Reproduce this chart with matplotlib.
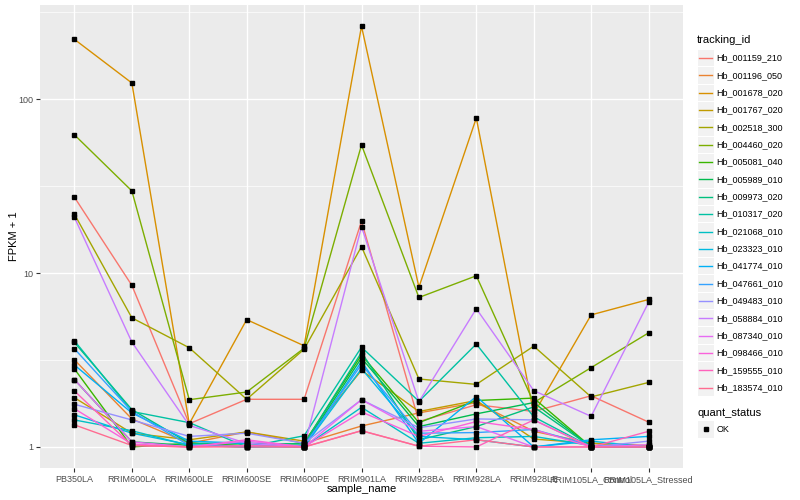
import numpy as np
import matplotlib.pyplot as plt
from matplotlib.patches import Rectangle
from matplotlib.lines import Line2D
from matplotlib.ticker import FixedLocator, NullFormatter

plt.rcParams.update({
    "font.family": ["Liberation Sans", "DejaVu Sans"],
    "font.size": 8})

samples = ["PB350LA", "RRIM600LA", "RRIM600LE", "RRIM600SE", "RRIM600PE",
           "RRIM901LA", "RRIM928BA", "RRIM928LA", "RRIM928LE",
           "RRIM105LA_Control", "RRIM105LA_Stressed"]

tracking_ids = ["Hb_001159_210", "Hb_001196_050", "Hb_001678_020", "Hb_001767_020",
                "Hb_002518_300", "Hb_004460_020", "Hb_005081_040", "Hb_005989_010",
                "Hb_009973_020", "Hb_010317_020", "Hb_021068_010", "Hb_023323_010",
                "Hb_041774_010", "Hb_047661_010", "Hb_049483_010", "Hb_058884_010",
                "Hb_087340_010", "Hb_098466_010", "Hb_159555_010", "Hb_183574_010"]

# ggplot hue palette, 20 levels
colours = ["#F8766D", "#EA8331", "#D89000", "#C09B00", "#A3A500", "#7CAE00",
           "#39B600", "#00BB4E", "#00BF7D", "#00C1A3", "#00BFC4", "#00BAE0",
           "#00B0F6", "#35A2FF", "#9590FF", "#C77CFF", "#E76BF3", "#FA62DB",
           "#FF62BC", "#FF6C91"]

# FPKM + 1 per sample
hb_001159_210 = [27.3, 8.5, 1.36, 1.88, 1.88, 19.9, 1.40, 1.75, 1.60, 1.97, 1.39]
hb_001196_050 = [3.17, 1.45, 1.05, 1.22, 1.05, 1.32, 1.57, 1.80, 1.23, 1.05, 1.02]
hb_001678_020 = [221, 124, 1.36, 5.4, 3.82, 263, 8.3, 78, 1.55, 5.75, 7.05]
hb_001767_020 = [1.92, 1.20, 1.10, 1.22, 1.08, 2.76, 1.60, 1.85, 1.11, 1.05, 1.01]
hb_002518_300 = [21.8, 5.53, 3.72, 1.88, 3.65, 14.2, 2.46, 2.29, 3.80, 1.94, 2.35]
hb_004460_020 = [62.4, 29.7, 1.87, 2.07, 3.70, 54.6, 7.24, 9.65, 1.80, 2.86, 4.53]
hb_005081_040 = [2.81, 1.00, 1.05, 1.02, 1.05, 3.38, 1.38, 1.85, 1.91, 1.00, 1.00]
hb_005989_010 = [2.44, 1.07, 1.02, 1.00, 1.02, 3.25, 1.31, 1.55, 1.80, 1.00, 1.00]
hb_009973_020 = [3.99, 1.64, 1.05, 1.05, 1.04, 3.50, 1.10, 1.31, 1.70, 1.00, 1.00]
hb_010317_020 = [4.08, 1.60, 1.38, 1.00, 1.16, 3.75, 1.83, 3.91, 1.49, 1.00, 1.00]
hb_021068_010 = [1.43, 1.24, 1.02, 1.02, 1.00, 1.69, 1.05, 1.13, 1.15, 1.02, 1.00]
hb_023323_010 = [1.53, 1.20, 1.03, 1.00, 1.00, 2.82, 1.15, 1.10, 1.00, 1.08, 1.00]
hb_041774_010 = [2.96, 1.57, 1.08, 1.05, 1.00, 3.10, 1.05, 1.95, 1.00, 1.10, 1.15]
hb_047661_010 = [3.67, 1.60, 1.02, 1.00, 1.02, 2.98, 1.20, 1.21, 1.26, 1.02, 1.00]
hb_049483_010 = [1.76, 1.43, 1.15, 1.20, 1.05, 1.87, 1.29, 1.45, 1.43, 1.00, 1.08]
hb_058884_010 = [20.9, 4.01, 1.33, 1.05, 1.00, 18.5, 1.82, 6.24, 2.11, 1.50, 6.78]
hb_087340_010 = [2.44, 1.07, 1.00, 1.08, 1.00, 1.87, 1.23, 1.31, 1.00, 1.00, 1.03]
hb_098466_010 = [1.66, 1.04, 1.00, 1.10, 1.00, 1.59, 1.15, 1.40, 1.26, 1.00, 1.00]
hb_159555_010 = [2.10, 1.02, 1.00, 1.02, 1.00, 1.24, 1.01, 1.00, 1.43, 1.00, 1.23]
hb_183574_010 = [1.34, 1.02, 1.00, 1.00, 1.00, 1.24, 1.01, 1.10, 1.00, 1.00, 1.00]

series = [hb_001159_210, hb_001196_050, hb_001678_020, hb_001767_020,
          hb_002518_300, hb_004460_020, hb_005081_040, hb_005989_010,
          hb_009973_020, hb_010317_020, hb_021068_010, hb_023323_010,
          hb_041774_010, hb_047661_010, hb_049483_010, hb_058884_010,
          hb_087340_010, hb_098466_010, hb_159555_010, hb_183574_010]

W, H = 800, 500


def fx(px):
    return px / W


def fy(py):
    return 1 - py / H


fig = plt.figure(figsize=(8, 5), dpi=100)
ax = fig.add_axes([fx(40), fy(468), fx(683) - fx(40), fy(5) - fy(468)])
ax.set_facecolor("#EBEBEB")
for s in ax.spines.values():
    s.set_visible(False)

x = np.arange(len(samples))
for vals, col in zip(series, colours):
    ax.plot(x, vals, color=col, lw=1.0, zorder=3)
for vals in series:
    ax.plot(x, vals, ls="none", marker="s", ms=3.0, color="black", zorder=4)

ax.set_yscale("log")
ax.set_ylim(10 ** -0.121, 10 ** 2.542)
ax.set_xlim(-0.6, len(samples) - 0.4)
ax.yaxis.set_major_locator(FixedLocator([1, 10, 100]))
ax.set_yticklabels(["1", "10", "100"])
ax.yaxis.set_minor_locator(FixedLocator([10 ** 0.5, 10 ** 1.5, 10 ** 2.5]))
ax.yaxis.set_minor_formatter(NullFormatter())
ax.set_xticks(x)
ax.set_xticklabels(samples)
ax.tick_params(axis="both", which="major", length=3, width=0.8, color="#333333",
               labelcolor="#4D4D4D", labelsize=6.5, pad=2)
ax.tick_params(axis="y", which="minor", length=0)
ax.grid(True, which="major", color="white", lw=1.0, zorder=0)
ax.grid(True, which="minor", axis="y", color="white", lw=0.5, zorder=0)
ax.set_axisbelow(True)

ax.set_xlabel("sample_name", fontsize=8)
ax.set_ylabel("FPKM + 1", fontsize=8)
ax.xaxis.set_label_coords(0.5, -(489 - 468) / 463, transform=ax.transAxes)
ax.yaxis.set_label_coords((14 - 40) / 643, 0.5, transform=ax.transAxes)
ax.xaxis.label.set_va("center")
ax.yaxis.label.set_va("center")

# legend: tracking_id
fig.text(fx(697), fy(40), "tracking_id", fontsize=8, va="center", ha="left")
for i, (name, col) in enumerate(zip(tracking_ids, colours)):
    cy = 58 + i * 17.35
    fig.add_artist(Rectangle((fx(697.5), fy(cy + 8.2)), fx(16.4), 16.4 / H,
                             transform=fig.transFigure, fc="#F2F2F2", ec="none"))
    fig.add_artist(Line2D([fx(699), fx(712)], [fy(cy), fy(cy)],
                          transform=fig.transFigure, color=col, lw=1.0))
    fig.text(fx(716.5), fy(cy), name, fontsize=6.5, va="center", ha="left")

# legend: quant_status
fig.text(fx(697), fy(413), "quant_status", fontsize=8, va="center", ha="left")
fig.add_artist(Rectangle((fx(697.5), fy(437.5)), fx(16.4), 16.4 / H,
                         transform=fig.transFigure, fc="#F2F2F2", ec="none"))
fig.add_artist(Line2D([fx(705.5)], [fy(429.3)], transform=fig.transFigure,
                      ls="none", marker="s", ms=3.0, color="black"))
fig.text(fx(716.5), fy(429.3), "OK", fontsize=6.5, va="center", ha="left")

fig.savefig("out.png", dpi=100)
plt.close(fig)
